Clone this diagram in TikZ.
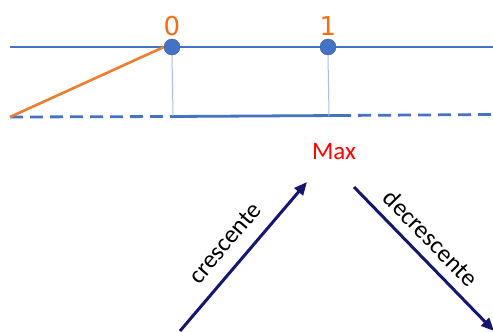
\documentclass[tikz,border=0pt]{standalone}
\usepackage{fontspec}
\setmainfont{Carlito}
\newfontfamily\digitfont{DejaVu Sans}
\usetikzlibrary{arrows.meta}
\definecolor{axisblue}{RGB}{68,114,196}
\definecolor{paleblue}{RGB}{170,190,228}
\definecolor{rayorange}{RGB}{237,125,49}
\definecolor{tickorange}{RGB}{240,110,20}
\definecolor{navy}{RGB}{22,22,110}
\tikzset{
  axis/.style={draw=axisblue, line width=2.8pt},
  dashaxis/.style={draw=axisblue, line width=2.8pt, dash pattern=on 13pt off 7pt},
  dot/.style={circle, fill=axisblue, draw=axisblue!80!black, line width=0.4pt, minimum size=16pt, inner sep=0pt},
  guide/.style={draw=paleblue, line width=1pt},
  ticklbl/.style={text=tickorange, font=\digitfont\fontsize{26}{26}\selectfont, inner sep=0pt},
  trend/.style={draw=navy, line width=3pt, -{Triangle[length=13pt,width=11pt]}},
  trendlbl/.style={font=\fontsize{25}{25}\selectfont, inner sep=0pt}
}
\begin{document}
\begin{tikzpicture}[x=1pt, y=-1pt]
  \useasboundingbox (0,0) rectangle (493,332);
  % number line with the two marked points
  \coordinate (la) at (10,47);
  \coordinate (ra) at (493,47);
  \draw[axis] (la) -- (ra);
  \node[dot] (p0) at (172,47) {};
  \node[dot] (p1) at (328,47) {};
  \node[ticklbl] (l0) at (172,26) {0};
  \node[ticklbl] (l1) at (328,26) {1};
  % lower line: dashed outside, solid between the projections
  \coordinate (lb) at (10,117);
  \coordinate (q0) at (172,116.5);
  \coordinate (q1) at (338,115.5);
  \coordinate (rb) at (493,114.5);
  \draw[dashaxis] (lb) -- (q0);
  \draw[axis] (q0) -- (q1);
  \draw[dashaxis] (q1) -- (rb);
  \draw[guide] (p0.south) -- (173,116);
  \draw[guide] (p1.south) -- (329,116);
  \draw[draw=rayorange, line width=2.6pt] (lb) -- (p0.west);
  % monotonicity sketch
  \node[text=red, font=\fontsize{25}{25}\selectfont, inner sep=0pt] (mx) at (334,152) {Max};
  \coordinate (a0) at (180,331);
  \coordinate (a1) at (307,182);
  \coordinate (b0) at (354,187);
  \coordinate (b1) at (494,331);
  \draw[trend] (a0) -- (a1);
  \draw[trend] (b0) -- (b1);
  \node[trendlbl, rotate=49.4] (cr) at (225,243) {crescente};
  \node[trendlbl, rotate=-45.8] (dc) at (431,238) {decrescente};
\end{tikzpicture}
\end{document}
